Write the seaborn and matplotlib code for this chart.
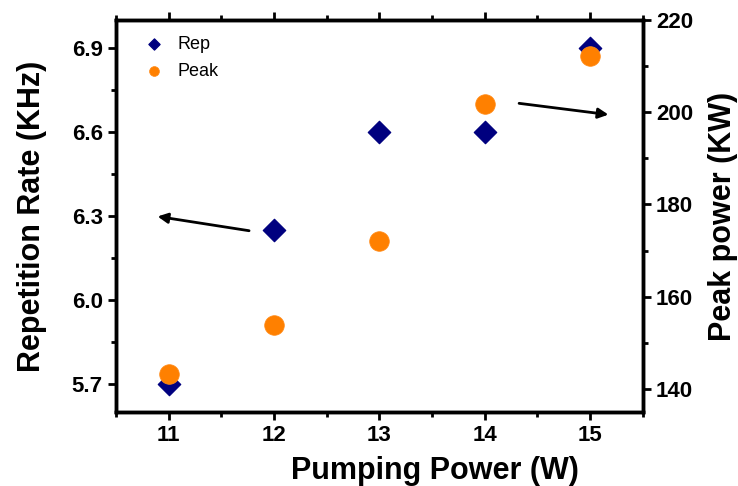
import matplotlib
matplotlib.use("Agg")
import matplotlib.pyplot as plt
import seaborn as sns
import pandas as pd
from matplotlib.ticker import MultipleLocator

pump_power = [11, 12, 13, 14, 15]
rep_rate = [5.70, 6.25, 6.60, 6.60, 6.90]
peak_power = [143.3, 153.9, 172.0, 201.7, 212.2]

df = pd.DataFrame({"pump": pump_power, "rep": rep_rate, "peak": peak_power})

sns.set_style("white")
plt.rcParams["font.family"] = ["Liberation Sans", "DejaVu Sans"]
plt.rcParams["font.weight"] = "bold"
plt.rcParams["text.color"] = "black"
plt.rcParams["axes.labelcolor"] = "black"
plt.rcParams["xtick.color"] = "black"
plt.rcParams["ytick.color"] = "black"

fig = plt.figure(figsize=(7.38, 4.86), dpi=100)
ax = fig.add_axes([0.157, 0.152, 0.714, 0.807])
ax2 = ax.twinx()

sns.scatterplot(data=df, x="pump", y="rep", ax=ax, marker="D", s=130,
                color="#00007f", edgecolor="#00007f", label="Rep", legend=False, zorder=3)
sns.scatterplot(data=df, x="pump", y="peak", ax=ax2, marker="o", s=200,
                color="#ff8000", edgecolor="#ff8c1a", linewidth=0.5, label="Peak",
                legend=False, zorder=4)

ax.set_xlim(10.5, 15.5)
ax.set_ylim(5.6, 7.0)
ax2.set_ylim(135, 220)

ax.xaxis.set_major_locator(MultipleLocator(1))
ax.xaxis.set_minor_locator(MultipleLocator(0.5))
ax.yaxis.set_major_locator(MultipleLocator(0.3))
ax.yaxis.set_minor_locator(MultipleLocator(0.15))
ax2.yaxis.set_major_locator(MultipleLocator(20))
ax2.yaxis.set_minor_locator(MultipleLocator(10))

for a in (ax, ax2):
    for sp in a.spines.values():
        sp.set_linewidth(2.5)
        sp.set_color("black")

ax.tick_params(axis="both", which="major", direction="out", length=6, width=2,
               labelsize=16, top=True, bottom=True, left=True, right=False, color="black")
ax.tick_params(axis="both", which="minor", direction="out", length=3.5, width=2,
               top=True, bottom=True, left=True, right=False, color="black")
ax2.tick_params(axis="y", which="major", direction="out", length=6, width=2,
                labelsize=16, color="black")
ax2.tick_params(axis="y", which="minor", direction="out", length=3.5, width=2, color="black")
for lab in ax.get_xticklabels() + ax.get_yticklabels() + ax2.get_yticklabels():
    lab.set_fontweight("bold")

ax.set_xlabel("Pumping Power (W)", fontsize=22, fontweight="bold", labelpad=7, x=0.605)
ax.set_ylabel("Repetition Rate (KHz)", fontsize=22, fontweight="bold", labelpad=18)
ax2.set_ylabel("Peak power (KW)", fontsize=22, fontweight="bold", labelpad=11)

ax.annotate("", xy=(10.87, 6.30), xytext=(11.79, 6.246),
            arrowprops=dict(arrowstyle="-|>", color="black", lw=2, mutation_scale=15))
ax2.annotate("", xy=(15.2, 199.4), xytext=(14.3, 202.0),
             arrowprops=dict(arrowstyle="-|>", color="black", lw=2, mutation_scale=15))

h1, l1 = ax.get_legend_handles_labels()
h2, l2 = ax2.get_legend_handles_labels()
leg = ax2.legend(h1 + h2, ["Rep", "Peak"], loc="upper left", frameon=False,
                 fontsize=13, markerscale=0.5, handletextpad=0.6, handlelength=1.5,
                 bbox_to_anchor=(0.015, 1.0), labelspacing=0.55)
for t in leg.get_texts():
    t.set_fontweight("normal")

fig.savefig("out.png", dpi=100)
